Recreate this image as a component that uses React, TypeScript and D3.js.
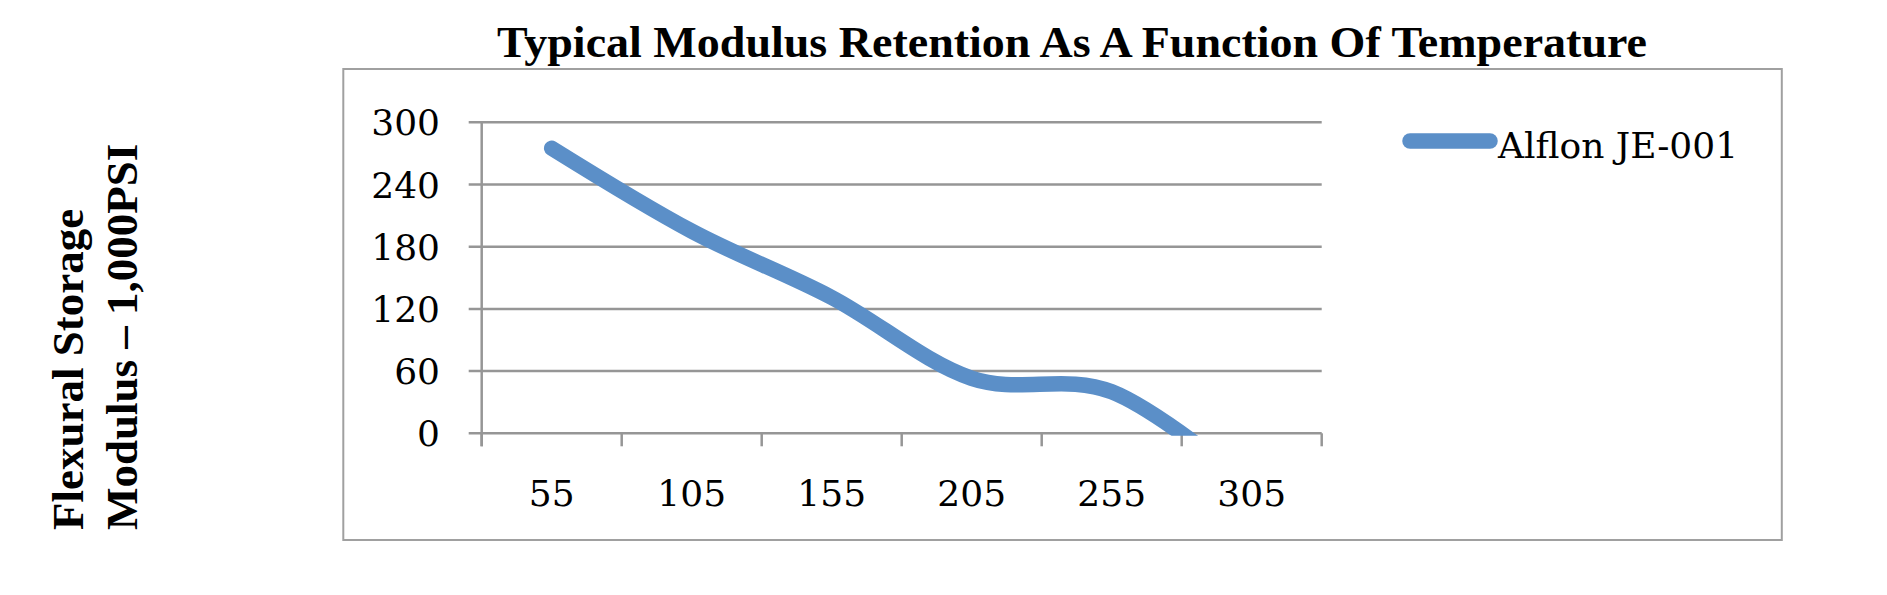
import React from "react";
import * as d3 from "d3";

const categories = ["55", "105", "155", "205", "255", "305"];
const modulus = [275, 195, 131, 53, 40, -52];
const yTicks = [0, 60, 120, 180, 240, 300];
const seriesName = "Alflon JE-001";
const title = "Typical Modulus Retention As A Function Of Temperature";
const yTitleLines = ["Flexural Storage", "Modulus \u2013 1,000PSI"];

const W = 1887;
const H = 595;
const plot = { left: 481.7, right: 1321.7, top: 122.3, bottom: 433.3 };
const gridColor = "#969696";
const lineColor = "#5b8fc8";
const tickFont = "'DejaVu Serif', serif";
const boldFont = "'Liberation Serif', 'Times New Roman', serif";

export default function App() {
  const x = d3.scaleBand<string>().domain(categories).range([plot.left, plot.right]).paddingInner(0).paddingOuter(0);
  const y = d3.scaleLinear().domain([0, 300]).range([plot.bottom, plot.top]);
  const line = d3
    .line<number>()
    .x((_, i) => (x(categories[i]) as number) + x.bandwidth() / 2)
    .y((d) => y(d))
    .curve(d3.curveCardinal.tension(0));
  const path = line(modulus) || "";
  const edges = categories.map((c) => x(c) as number).concat([plot.right]);

  return (
    <svg width={W} height={H} style={{ position: "absolute", left: 0, top: 0, background: "#fff" }}>
      <defs>
        <clipPath id="plotClip">
          <rect x={plot.left} y={0} width={plot.right - plot.left + 20} height={plot.bottom + 2.5} />
        </clipPath>
      </defs>
      <rect x={0} y={0} width={W} height={H} fill="#fff" />
      <text
        x={1072}
        y={56.7}
        textAnchor="middle"
        fontFamily={boldFont}
        fontWeight="bold"
        fontSize={45}
        textLength={1150}
        lengthAdjust="spacingAndGlyphs"
        fill="#000"
      >
        {title}
      </text>
      <rect x={343.3} y={69} width={1781.8 - 343.3} height={540 - 69} fill="none" stroke="#a0a0a0" strokeWidth={2} />
      {yTicks.map((t) => (
        <g key={"g" + t}>
          <line x1={plot.left - 13} x2={plot.right} y1={y(t)} y2={y(t)} stroke={gridColor} strokeWidth={2.5} />
          <text x={440} y={y(t) + 13} textAnchor="end" fontFamily={tickFont} fontSize={36} fill="#000">
            {t}
          </text>
        </g>
      ))}
      <line x1={plot.left} x2={plot.left} y1={plot.top} y2={plot.bottom + 13} stroke={gridColor} strokeWidth={2.5} />
      {edges.map((e, i) => (
        <line key={"t" + i} x1={e} x2={e} y1={plot.bottom} y2={plot.bottom + 13} stroke={gridColor} strokeWidth={2.5} />
      ))}
      {categories.map((c) => (
        <text
          key={"c" + c}
          x={(x(c) as number) + x.bandwidth() / 2}
          y={505.5}
          textAnchor="middle"
          fontFamily={tickFont}
          fontSize={36}
          fill="#000"
        >
          {c}
        </text>
      ))}
      <g clipPath="url(#plotClip)">
        <path d={path} fill="none" stroke={lineColor} strokeWidth={15.5} strokeLinecap="round" strokeLinejoin="round" />
      </g>
      <line x1={1410} x2={1490} y1={141} y2={141} stroke={lineColor} strokeWidth={15.5} strokeLinecap="round" />
      <text x={1498} y={158.3} fontFamily={tickFont} fontSize={36} fill="#000">
        {seriesName}
      </text>
      {yTitleLines.map((l, i) => (
        <text
          key={"yt" + i}
          transform={`translate(${i === 0 ? 83.3 : 136.7},530) rotate(-90)`}
          fontFamily={boldFont}
          fontWeight="bold"
          fontSize={45}
          fill="#000"
        >
          {l}
        </text>
      ))}
    </svg>
  );
}
